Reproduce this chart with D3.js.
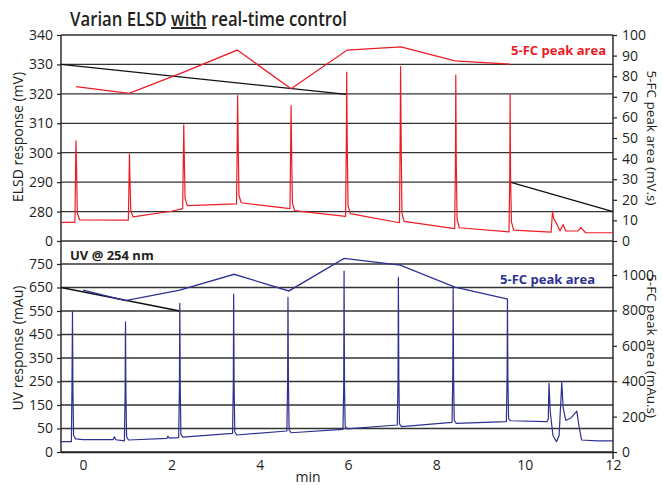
<!DOCTYPE html>
<html>
<head>
<meta charset="utf-8">
<title>Varian ELSD with real-time control</title>
<script src="https://d3js.org/d3.v7.min.js"></script>
<style>
    body { margin: 0; background: #fff; }
    text { font-family: "Open Sans", sans-serif; fill: #231f20; }
</style>
</head>
<body>
<svg id="chart" width="663" height="485"></svg>
<script>
// x ticks (min)
const timeTicks = [0, 2, 4, 6, 8, 10, 12];

// ELSD panel, left axis (mV) - axis is broken, bottom tick reads "0"
const elsdTickValues = [270, 280, 290, 300, 310, 320, 330, 340];
const elsdTickLabels = ["0", "280", "290", "300", "310", "320", "330", "340"];
// ELSD panel, right axis (mV.s)
const elsdAreaTicks = [0, 10, 20, 30, 40, 50, 60, 70, 80, 90, 100];

// UV panel, left axis (mAu) - broken axis too
const uvTickValues = [-50, 50, 150, 250, 350, 450, 550, 650, 750];
const uvTickLabels = ["0", "50", "150", "250", "350", "450", "550", "650", "750"];
// UV panel, right axis (mAu.s)
const uvAreaTicks = [0, 200, 400, 600, 800, 1000];

// ELSD chromatogram [min, mV]
const elsdTrace = [
    [-0.5, 276.3], [-0.185, 276.3], [-0.168, 296.6], [-0.16, 304], [-0.15, 296.6], [-0.13, 279.5], [-0.08, 277.2],
    [1.0, 277.1], [1.025, 277.1], [1.042, 292], [1.05, 299.6], [1.06, 292], [1.08, 280.5], [1.13, 278.2],
    [2.0, 280.1], [2.255, 281], [2.272, 300], [2.28, 309.5], [2.29, 300], [2.31, 284.5], [2.36, 282],
    [3.475, 282.6], [3.492, 306], [3.5, 319.4], [3.51, 306], [3.53, 285.5], [3.58, 283],
    [4.685, 281], [4.702, 303.3], [4.71, 316], [4.72, 303.3], [4.74, 283], [4.79, 280.3],
    [5.945, 278.4], [5.962, 305], [5.97, 327.4], [5.98, 305], [6.0, 282], [6.05, 279.3],
    [7.165, 276.2], [7.182, 309], [7.19, 329.3], [7.2, 309], [7.22, 279.5], [7.27, 276.7],
    [8.415, 274.2], [8.432, 297.6], [8.44, 326.4], [8.45, 297.6], [8.47, 277.3], [8.52, 274.5],
    [9.645, 273.1], [9.662, 292], [9.67, 319.7], [9.68, 292], [9.7, 276.5], [9.75, 273.7],
    [10.6, 273], [10.63, 280.1], [10.66, 277.5], [10.72, 276], [10.8, 273.4], [10.87, 275.6], [10.93, 273.4],
    [11.21, 273.4], [11.27, 274.6], [11.38, 272.8], [12, 272.8]
];

// UV chromatogram [min, mAu]
const uvTrace = [
    [-0.5, -6], [-0.265, -6], [-0.252, 214], [-0.24, 547], [-0.23, 214], [-0.215, 20], [-0.17, 6],
    [0.0, 3], [0.68, 3], [0.71, 15], [0.74, 2], [0.935, -3],
    [0.952, 200], [0.96, 504], [0.97, 200], [0.985, 15], [1.03, 1], [1.9, 8], [1.92, 18], [1.95, 9],
    [2.165, 10.8], [2.182, 230], [2.19, 583], [2.2, 230], [2.215, 25], [2.26, 13],
    [3.385, 29.6], [3.402, 240], [3.41, 622], [3.42, 240], [3.435, 35], [3.48, 22.3],
    [4.615, 39.4], [4.632, 250], [4.64, 608], [4.65, 250], [4.665, 45], [4.71, 32],
    [5.885, 46.6], [5.902, 226], [5.91, 720], [5.92, 226], [5.935, 60], [5.98, 48],
    [7.115, 65], [7.132, 260], [7.14, 693], [7.15, 260], [7.165, 70], [7.21, 57.7],
    [8.355, 76.4], [8.372, 270], [8.38, 647], [8.39, 270], [8.405, 85], [8.45, 72],
    [9.585, 79], [9.602, 270], [9.61, 600], [9.62, 270], [9.635, 92], [9.68, 83],
    [10.5, 79], [10.535, 90], [10.55, 242], [10.58, 120], [10.64, 20], [10.72, -6], [10.78, 20],
    [10.84, 247], [10.87, 140], [10.93, 85], [11.05, 95], [11.18, 124], [11.23, 60], [11.29, 1],
    [11.63, -3], [12, -3]
];

// 5-FC peak areas
const elsdArea = [[-0.16, 74.9], [1.04, 71.7], [2.28, 82.0], [3.49, 92.7], [4.71, 73.9], [5.98, 92.7], [7.2, 94.2], [8.42, 87.4], [9.66, 85.9]];
const uvArea = [[0.0, 915], [0.96, 855], [2.19, 915], [3.42, 1004], [4.66, 910], [5.91, 1094], [7.18, 1056], [8.42, 932], [9.62, 864]];

// control lines (left axis units)
const elsdControl = [[[-0.5, 330], [5.97, 319.8]], [[9.67, 290], [12, 280]]];
const uvControl = [[[-0.5, 650], [2.19, 550]]];

const red = "#ed1c24", blue = "#2e3192", dark = "#231f20";

const svg = d3.select("#chart");

const x = d3.scaleLinear().domain([-0.5, 12]).range([61, 613]);
const yElsd = d3.scaleLinear().domain([270, 340]).range([241, 35]);
const yElsdArea = d3.scaleLinear().domain([0, 100]).range([241, 35]);
const yUv = d3.scaleLinear().domain([-50, 750]).range([452, 264]);
const yUvArea = d3.scaleLinear().domain([0, 1000]).range([452, 275]);

// grid lines
const grid = svg.append("g");
elsdTickValues.forEach(v => grid.append("line")
    .attr("x1", x(-0.5)).attr("x2", x(12)).attr("y1", yElsd(v)).attr("y2", yElsd(v)));
uvTickValues.forEach(v => grid.append("line")
    .attr("x1", x(-0.5)).attr("x2", x(12)).attr("y1", yUv(v)).attr("y2", yUv(v)));
grid.selectAll("line").attr("stroke", "#333").attr("stroke-width", 1.3);

// axes
function styleAxis(g) {
    g.select(".domain").remove();
    g.selectAll(".tick line").attr("stroke", dark).attr("stroke-width", 1.2);
    g.selectAll(".tick text").style("font-size", "14px").attr("fill", "#333");
}

svg.append("g").attr("transform", "translate(61,0)")
    .call(d3.axisLeft(yElsd).tickValues(elsdTickValues).tickFormat((d, i) => elsdTickLabels[i]).tickSize(4).tickPadding(4))
    .call(styleAxis);
svg.append("g").attr("transform", "translate(61,0)")
    .call(d3.axisLeft(yUv).tickValues(uvTickValues).tickFormat((d, i) => uvTickLabels[i]).tickSize(4).tickPadding(4))
    .call(styleAxis);
svg.append("g").attr("transform", "translate(613,0)")
    .call(d3.axisRight(yElsdArea).tickValues(elsdAreaTicks).tickFormat(d3.format("d")).tickSize(4).tickPadding(5))
    .call(styleAxis);
svg.append("g").attr("transform", "translate(613,0)")
    .call(d3.axisRight(yUvArea).tickValues(uvAreaTicks).tickFormat(d3.format("d")).tickSize(4).tickPadding(5))
    .call(styleAxis);
svg.append("g").attr("transform", "translate(0,452)")
    .call(d3.axisBottom(x).tickValues(timeTicks).tickSize(0).tickPadding(8))
    .call(styleAxis);

// axis frame lines
svg.append("line").attr("x1", 61).attr("x2", 61).attr("y1", 35).attr("y2", 453)
    .attr("stroke", dark).attr("stroke-width", 1.4);
svg.append("line").attr("x1", 613).attr("x2", 613).attr("y1", 35).attr("y2", 459)
    .attr("stroke", dark).attr("stroke-width", 1.4);
svg.append("line").attr("x1", 61).attr("x2", 613).attr("y1", 452.5).attr("y2", 452.5)
    .attr("stroke", dark).attr("stroke-width", 1.6);

// control lines
const ctrl = svg.append("g").attr("fill", "none").attr("stroke", "#111").attr("stroke-width", 1.3);
const lineElsd = d3.line().x(d => x(d[0])).y(d => yElsd(d[1]));
const lineUv = d3.line().x(d => x(d[0])).y(d => yUv(d[1]));
elsdControl.forEach(seg => ctrl.append("path").attr("d", lineElsd(seg)));
uvControl.forEach(seg => ctrl.append("path").attr("d", lineUv(seg)));

// chromatograms
svg.append("path").attr("d", lineElsd(elsdTrace))
    .attr("fill", "none").attr("stroke", red).attr("stroke-width", 1.2).attr("stroke-linejoin", "round");
svg.append("path").attr("d", lineUv(uvTrace))
    .attr("fill", "none").attr("stroke", blue).attr("stroke-width", 1.2).attr("stroke-linejoin", "round");

// peak area lines
svg.append("path").attr("d", d3.line().x(d => x(d[0])).y(d => yElsdArea(d[1]))(elsdArea))
    .attr("fill", "none").attr("stroke", red).attr("stroke-width", 1.3);
svg.append("path").attr("d", d3.line().x(d => x(d[0])).y(d => yUvArea(d[1]))(uvArea))
    .attr("fill", "none").attr("stroke", blue).attr("stroke-width", 1.3);

// title, squeezed horizontally to the narrow face of the original
const title = svg.append("text").attr("x", 0).attr("y", 0)
    .style("font-size", "19px").style("font-weight", 600);
title.append("tspan").text("Varian ELSD ");
title.append("tspan").text("with").style("text-decoration", "underline");
title.append("tspan").text(" real-time control");
const tw = title.node().getComputedTextLength();
title.attr("transform", `translate(70,26) scale(${277 / tw},1)`);

// labels
svg.append("text").attr("x", 606).attr("y", 55).attr("text-anchor", "end")
    .style("font-size", "13px").style("font-weight", 700).style("fill", red).text("5-FC peak area");
svg.append("text").attr("x", 595).attr("y", 284).attr("text-anchor", "end")
    .style("font-size", "13px").style("font-weight", 700).style("fill", blue).text("5-FC peak area");
svg.append("text").attr("x", 70).attr("y", 260)
    .style("font-size", "13px").style("font-weight", 700).text("UV @ 254 nm");

svg.append("text").attr("transform", "translate(23,137) rotate(-90)").attr("text-anchor", "middle")
    .style("font-size", "14px").text("ELSD response (mV)");
svg.append("text").attr("transform", "translate(23,348) rotate(-90)").attr("text-anchor", "middle")
    .style("font-size", "14px").text("UV response (mAu)");
svg.append("text").attr("transform", "translate(647,138) rotate(90)").attr("text-anchor", "middle")
    .style("font-size", "13.5px").text("5-FC peak area (mV.s)");
svg.append("text").attr("transform", "translate(647,346) rotate(90)").attr("text-anchor", "middle")
    .style("font-size", "13.5px").text("5-FC peak area (mAu.s)");
svg.append("text").attr("x", 308).attr("y", 482).attr("text-anchor", "middle")
    .style("font-size", "14px").text("min");
</script>
</body>
</html>
